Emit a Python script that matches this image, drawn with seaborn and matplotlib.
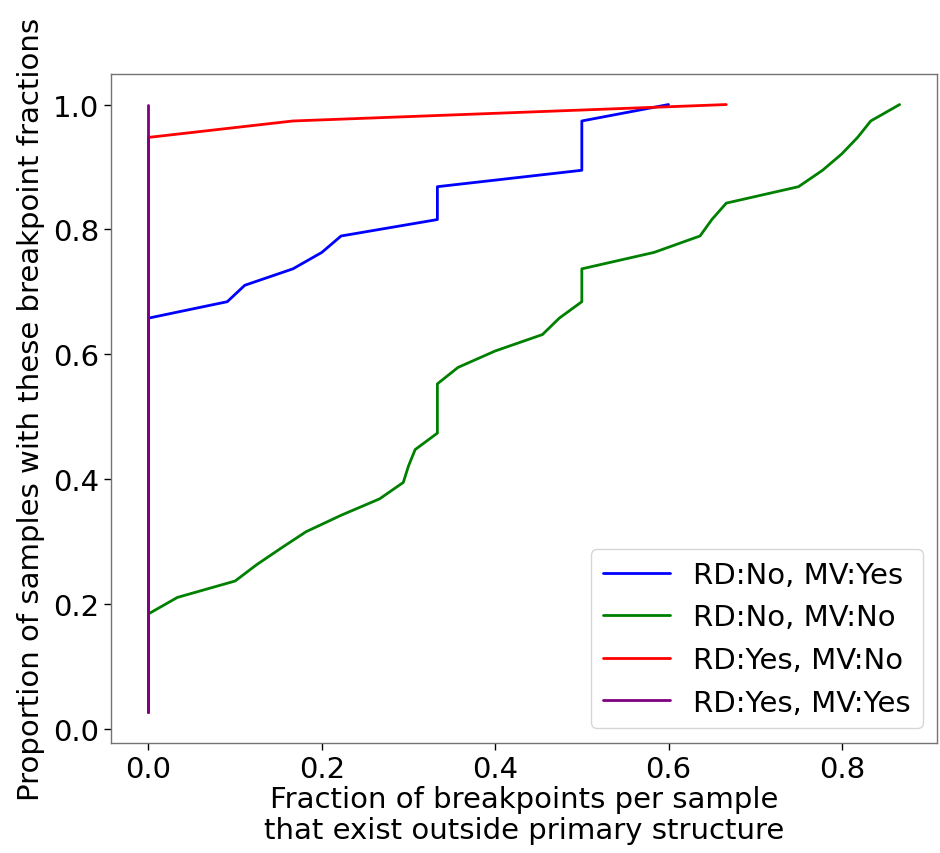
import numpy as np
import pandas as pd
import matplotlib
matplotlib.use('Agg')
import matplotlib.pyplot as plt
import seaborn as sns

# Sorted per-sample fraction of breakpoints outside primary structure (38 samples per group)
rd_no_mv_yes = [0.0] * 25 + [1/11, 1/9, 1/6, 0.2, 2/9, 1/3, 1/3, 1/3, 0.5, 0.5, 0.5, 0.5, 0.6]
rd_no_mv_no = [0.0] * 7 + [1/30, 0.1, 0.125, 0.153, 2/11, 2/9, 4/15, 0.294, 0.3, 4/13,
                           1/3, 1/3, 1/3, 1/3, 5/14, 0.4, 5/11, 0.474, 0.5, 0.5, 0.5,
                           7/12, 7/11, 0.65, 2/3, 0.75, 7/9, 0.8, 9/11, 5/6, 13/15]
rd_yes_mv_no = [0.0] * 36 + [1/6, 2/3]
rd_yes_mv_yes = [0.0] * 38

groups = ['RD:No, MV:Yes', 'RD:No, MV:No', 'RD:Yes, MV:No', 'RD:Yes, MV:Yes']
colors = ['blue', 'green', 'red', 'purple']
series = [rd_no_mv_yes, rd_no_mv_no, rd_yes_mv_no, rd_yes_mv_yes]

# Build long-form table: cumulative proportion of samples
rows = []
for name, vals in zip(groups, series):
    vals = sorted(vals)
    n = len(vals)
    for i, v in enumerate(vals):
        rows.append({'frac': v, 'prop': (i + 1) / n, 'group': name})
df = pd.DataFrame(rows)

sns.set_style("ticks", {'axes.edgecolor': '0.45', 'xtick.color': 'black', 'ytick.color': 'black',
                        'axes.labelcolor': 'black', 'text.color': 'black'})
plt.rcParams['font.family'] = ['DejaVu Sans']

fig = plt.figure(figsize=(9.4, 8.54), dpi=100)
ax = fig.add_axes([0.118, 0.129, 0.879, 0.783])

sns.lineplot(data=df, x='frac', y='prop', hue='group', hue_order=groups,
             palette=dict(zip(groups, colors)), estimator=None, sort=False,
             linewidth=2, ax=ax)

ax.set_xlabel("Fraction of breakpoints per sample\nthat exist outside primary structure",
              fontsize=21, labelpad=2, linespacing=1.1)
ax.set_ylabel("Proportion of samples with these breakpoint fractions", fontsize=21, labelpad=6)
ax.tick_params(labelsize=21, length=5, width=1)
ax.set_xticks([0.0, 0.2, 0.4, 0.6, 0.8])
ax.set_yticks([0.0, 0.2, 0.4, 0.6, 0.8, 1.0])
for s in ax.spines.values():
    s.set_visible(True)
    s.set_linewidth(1)

leg = ax.legend(loc='lower right', fontsize=21, frameon=True, title=None, handlelength=2.3)
leg.get_frame().set_edgecolor('0.8')

fig.savefig('out.png', dpi=100)
